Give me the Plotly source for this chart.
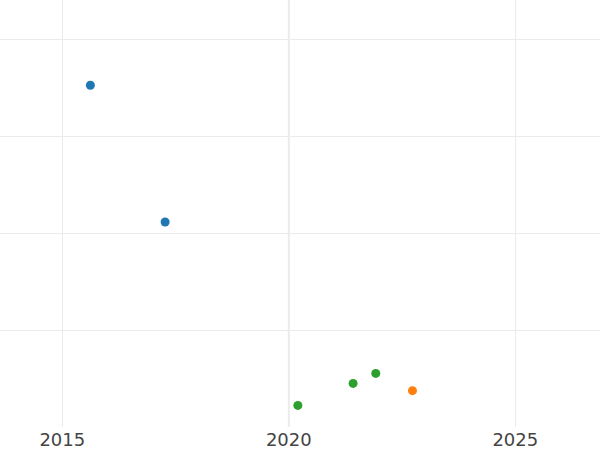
import plotly.graph_objects as go

# Data
series_names = ["Series A", "Series B", "Series C"]
a_x = [2015.62, 2017.27]
a_y = [70.5, 42.3]
b_x = [2022.73]
b_y = [7.5]
c_x = [2020.20, 2021.42, 2021.92]
c_y = [4.45, 9.0, 11.05]

x_ticks = [2015, 2020, 2025]
y_ticks = [20, 40, 60, 80]
marker_year = 2020  # year emphasised with a slightly heavier line

colors = ["#1f77b4", "#ff7f0e", "#2ca02c"]

fig = go.Figure()
for name, xs, ys, col in zip(series_names, [a_x, b_x, c_x], [a_y, b_y, c_y], colors):
    fig.add_trace(go.Scatter(x=xs, y=ys, mode="markers", name=name,
                             marker=dict(color=col, size=9)))

fig.add_vline(x=marker_year, line=dict(color="#ebebeb", width=2), layer="below")

fig.update_layout(
    width=600, height=450,
    margin=dict(l=0, r=0, t=0, b=23),
    paper_bgcolor="white", plot_bgcolor="white",
    showlegend=False,
    font=dict(family="DejaVu Sans", color="#444"),
)
fig.update_xaxes(range=[2013.625, 2026.87], tickvals=x_ticks,
                 ticktext=[str(t) for t in x_ticks],
                 showgrid=True, gridcolor="#ebebeb", zeroline=False,
                 showline=False, ticks="", tickfont=dict(size=18))
fig.update_yaxes(range=[0, 88.1], tickvals=y_ticks, showticklabels=False,
                 showgrid=True, gridcolor="#ebebeb", zeroline=False,
                 showline=False, ticks="")

fig.write_html("out.html", config={"displayModeBar": False},
               post_script="document.body.style.margin='0';document.body.style.padding='0';")
